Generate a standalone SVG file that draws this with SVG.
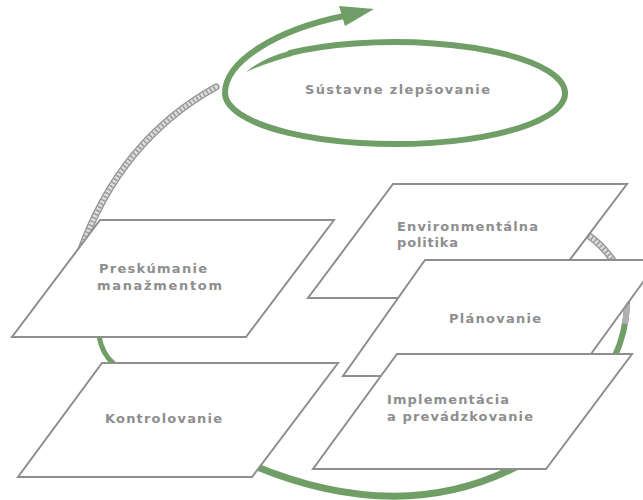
<svg xmlns="http://www.w3.org/2000/svg" width="643" height="500" viewBox="0 0 643 500">
  <defs>
    <style>
      .box { fill: #ffffff; stroke: #8e8e8e; stroke-width: 2; stroke-linejoin: miter; }
      .lbl { font-family: "DejaVu Sans", "Liberation Sans", Arial, sans-serif; font-weight: bold; font-size: 13px; fill: #8e8e8e; }
      .green { fill: none; stroke: #6f9e66; stroke-linecap: round; }
      .hatch-base { fill: none; stroke: #8f8f8f; stroke-width: 7; stroke-linecap: round; }
      .hatch-mid { fill: none; stroke: #dcdcdc; stroke-width: 4.5; stroke-linecap: round; }
      .hatch-dash { fill: none; stroke: #9a9a9a; stroke-width: 4.5; stroke-dasharray: 1.5 2.5; }
    </style>
  </defs>

  <rect width="643" height="500" fill="#ffffff"/>

  <g id="connectors">
    <!-- gray hatched arc from Preskumanie up to improvement loop -->
    <path class="hatch-base" d="M 80 252 Q 120 140 216 87"/>
    <path class="hatch-mid" d="M 80 252 Q 120 140 216 87"/>
    <path class="hatch-dash" d="M 80 252 Q 120 140 216 87"/>
    <!-- Preskumanie -> Kontrolovanie -->
    <path class="green" stroke-width="5" d="M 99 336 Q 102 354 114 364"/>
    <!-- Implementacia -> Kontrolovanie bottom arc -->
    <path class="green" stroke-width="7" d="M 252 465 Q 400 527 518 466"/>
    <!-- Environmental -> Planovanie (gray hatched) -->
    <path class="hatch-base" d="M 585 233 Q 602 244 614 262"/>
    <path class="hatch-mid" d="M 585 233 Q 602 244 614 262"/>
    <path class="hatch-dash" d="M 585 233 Q 602 244 614 262"/>
    <!-- Planovanie -> Implementacia -->
    <path class="green" stroke-width="6" d="M 627 304 Q 626 333 614 358"/>
    <path fill="none" stroke="#b0b0b0" stroke-width="6" stroke-dasharray="20 200" d="M 627 304 Q 626 333 614 358"/>
  </g>

  <g id="n-zlepsovanie">
    <path fill="#6f9e66" d="M 246 72 Q 262 58 291 50.5 L 292 56 Q 266 63 246 72 Z"/>
    <path class="green" stroke-width="6" d="M 290 53 A 170 51 0 1 1 225 93 C 225 62 275 30 344 16"/>
    <polygon points="374,9 339,6 345,26" fill="#6f9e66"/>
    <text class="lbl" x="305" y="94" font-size="13.5" textLength="185" lengthAdjust="spacing">Sústavne zlepšovanie</text>
  </g>

  <g id="n-preskumanie">
    <polygon class="box" points="100,220 334,220 246,337 12,337"/>
    <text class="lbl" x="99" y="273" textLength="108" lengthAdjust="spacing">Preskúmanie</text>
    <text class="lbl" x="97" y="290" textLength="125" lengthAdjust="spacing">manažmentom</text>
  </g>

  <g id="n-kontrolovanie">
    <polygon class="box" points="102,363 338,363 252,477 18,477"/>
    <text class="lbl" x="105" y="423" textLength="117" lengthAdjust="spacing">Kontrolovanie</text>
  </g>

  <g id="n-politika">
    <polygon class="box" points="393,184 627,184 541,298 308,298"/>
    <text class="lbl" x="397" y="231" textLength="141" lengthAdjust="spacing">Environmentálna</text>
    <text class="lbl" x="397" y="247" textLength="61" lengthAdjust="spacing">politika</text>
  </g>

  <g id="n-planovanie">
    <polygon class="box" points="425,260 659,260 575,376 343,376"/>
    <text class="lbl" x="449" y="323" textLength="92" lengthAdjust="spacing">Plánovanie</text>
  </g>

  <g id="n-implementacia">
    <polygon class="box" points="397,354 632,354 546,469 313,469"/>
    <text class="lbl" x="387" y="404" textLength="122" lengthAdjust="spacing">Implementácia</text>
    <text class="lbl" x="387" y="421" textLength="146" lengthAdjust="spacing">a prevádzkovanie</text>
  </g>
</svg>
